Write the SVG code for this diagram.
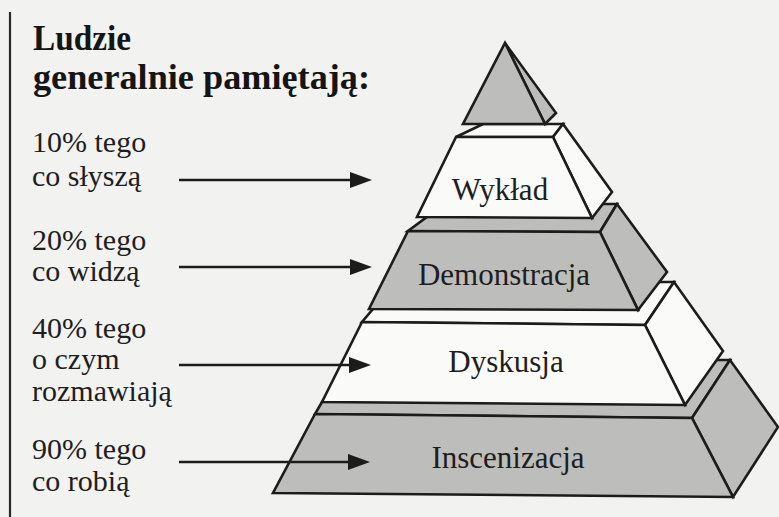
<svg xmlns="http://www.w3.org/2000/svg" width="779" height="517" viewBox="0 0 779 517">
<defs>
<style>
.bg{fill:#f2f2f0}
.g{fill:#bdbdbb;stroke:#1c1c1c;stroke-width:2.6;stroke-linejoin:miter}
.w{fill:#fafaf8;stroke:#1c1c1c;stroke-width:2.6;stroke-linejoin:miter}
.lbl{font-family:"Liberation Serif","Times New Roman",serif;font-size:31px;fill:#1e1e1e;text-anchor:middle}
.txt{font-family:"Liberation Serif","Times New Roman",serif;font-size:30px;fill:#1e1e1e}
.ttl{font-family:"Liberation Serif","Times New Roman",serif;font-size:35px;font-weight:bold;fill:#151515}
.arr{stroke:#1c1c1c;stroke-width:2.6;fill:none}
</style>
<marker id="ah" markerWidth="22" markerHeight="16" refX="2" refY="8" orient="auto" markerUnits="userSpaceOnUse">
<path d="M0,0 L22,8 L0,16 z" fill="#1c1c1c"/>
</marker>
</defs>
<rect class="bg" x="0" y="0" width="779" height="517"/>
<line x1="10" y1="12" x2="10" y2="517" stroke="#2a2a2a" stroke-width="2.2"/>

<g id="title">
<text class="ttl" x="33" y="50" textLength="98" lengthAdjust="spacingAndGlyphs">Ludzie</text>
<text class="ttl" x="33" y="89" textLength="337" lengthAdjust="spacingAndGlyphs">generalnie pamiętają:</text>
</g>

<g id="left-texts">
<text class="txt" x="32" y="152">10% tego</text>
<text class="txt" x="32" y="186">co słyszą</text>
<text class="txt" x="32" y="250">20% tego</text>
<text class="txt" x="32" y="281">co widzą</text>
<text class="txt" x="32" y="338">40% tego</text>
<text class="txt" x="32" y="369">o czym</text>
<text class="txt" x="32" y="401">rozmawiają</text>
<text class="txt" x="32" y="459">90% tego</text>
<text class="txt" x="32" y="491">co robią</text>
</g>

<g id="inscenizacja">
<polygon class="g" points="315,414 692,418 730,360 400,360 322,402"/>
<polygon class="g" points="692,418 730,360 778,427 733,497"/>
<polygon class="g" points="315,414 692,418 733,497 273,493"/>
<text class="lbl" x="508" y="468">Inscenizacja</text>
</g>

<g id="dyskusja">
<polygon class="w" points="362,322 645,325 674,282 420,282 373,309"/>
<polygon class="w" points="645,325 674,282 723,351 685,405"/>
<polygon class="w" points="362,322 645,325 685,405 322,402"/>
<text class="lbl" x="506" y="372">Dyskusja</text>
</g>

<g id="demonstracja">
<polygon class="g" points="408,231 600,232 617,204 460,204 427,217"/>
<polygon class="g" points="600,232 617,204 667,272 638,310"/>
<polygon class="g" points="408,231 600,232 638,310 369,309"/>
<text class="lbl" x="504" y="285">Demonstracja</text>
</g>

<g id="wyklad">
<polygon class="w" points="456,137 553,137 563,124 500,124 483,124"/>
<polygon class="w" points="553,137 563,124 612,192 592,218"/>
<polygon class="w" points="456,137 553,137 592,218 417,217"/>
<text class="lbl" x="500" y="200">Wykład</text>
</g>

<g id="apex">
<polygon class="g" points="505,43 556,113 545,124"/>
<polygon class="g" points="505,43 545,124 463,124"/>
</g>

<g id="connectors">
<path class="arr" d="M179,180 H352" marker-end="url(#ah)"/>
<path class="arr" d="M179,267 H352" marker-end="url(#ah)"/>
<path class="arr" d="M179,365 H351" marker-end="url(#ah)"/>
<path class="arr" d="M179,462 H350" marker-end="url(#ah)"/>
</g>
</svg>
